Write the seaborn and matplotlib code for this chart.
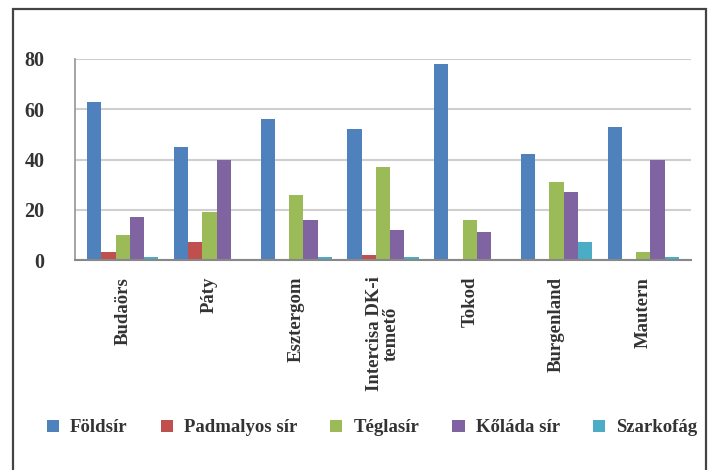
import matplotlib
matplotlib.use("Agg")
import matplotlib.pyplot as plt
import seaborn as sns
import pandas as pd
from matplotlib.patches import Rectangle

sites = ["Budaörs", "Páty", "Esztergom", "Intercisa DK-i\ntemető", "Tokod", "Burgenland", "Mautern"]
series = ["Földsír", "Padmalyos sír", "Téglasír", "Kőláda sír", "Szarkofág"]
foldsir = [63, 45, 56, 52, 78, 42, 53]
padmalyos = [3, 7, 0, 2, 0, 0, 0]
teglasir = [10, 19, 26, 37, 16, 31, 3]
kolada = [17, 40, 16, 12, 11, 27, 40]
szarkofag = [1, 0, 1, 1, 0, 7, 1]
yticks = [0, 20, 40, 60, 80]
colors = ["#4F81BD", "#C0504D", "#9BBB59", "#8064A2", "#4BACC6"]

rows = []
for name, vals in zip(series, [foldsir, padmalyos, teglasir, kolada, szarkofag]):
    for s, v in zip(sites, vals):
        rows.append({"site": s, "series": name, "value": v})
df = pd.DataFrame(rows)

sns.set_theme(style="white")
plt.rcParams["font.family"] = ["Liberation Serif", "DejaVu Serif"]

W, H = 712, 470
fig = plt.figure(figsize=(W / 100, H / 100), dpi=100)
fig.patch.set_facecolor("white")

# outer frame
fig.add_artist(Rectangle((13 / W, -0.05), (706 - 13) / W, (H - 9) / H + 0.05,
                         transform=fig.transFigure, fill=False,
                         edgecolor="#444444", linewidth=1.6))

ax = fig.add_axes([75 / W, (H - 260) / H, (691 - 75) / W, (260 - 59) / H])
sns.barplot(data=df, x="site", y="value", hue="series", palette=colors,
            width=0.82, saturation=1, ax=ax, edgecolor="none", legend=True)

ax.set_ylim(0, 80)
ax.set_xlim(-0.55, 6.55)
ax.set_yticks(yticks)
ax.set_yticklabels([str(t) for t in yticks], fontsize=14.5, fontweight="bold", color="#333333")
ax.tick_params(axis="y", length=0, pad=22)
ax.tick_params(axis="x", length=0, pad=12)
ax.set_xticks(range(len(sites)))
ax.set_xticklabels(sites, rotation=90, fontsize=13.5, fontweight="bold", color="#333333",
                   va="top", ha="center", linespacing=0.95)
ax.set_xlabel("")
ax.set_ylabel("")
ax.grid(axis="y", color="#cfcfcf", linewidth=1.5)
ax.set_axisbelow(True)
for sp in ["top", "right"]:
    ax.spines[sp].set_visible(False)
ax.spines["left"].set_color("#999999")
ax.spines["bottom"].set_color("#888888")
ax.spines["bottom"].set_linewidth(1.5)

leg = ax.legend(loc="center", bbox_to_anchor=(372 / W, (H - 428) / H), bbox_transform=fig.transFigure,
                ncol=5, frameon=False, fontsize=13.5, handlelength=0.65, handleheight=0.65,
                columnspacing=1.75, handletextpad=0.6)
for t in leg.get_texts():
    t.set_fontweight("bold")
    t.set_color("#333333")

fig.savefig("out.png", dpi=100, facecolor="white")
